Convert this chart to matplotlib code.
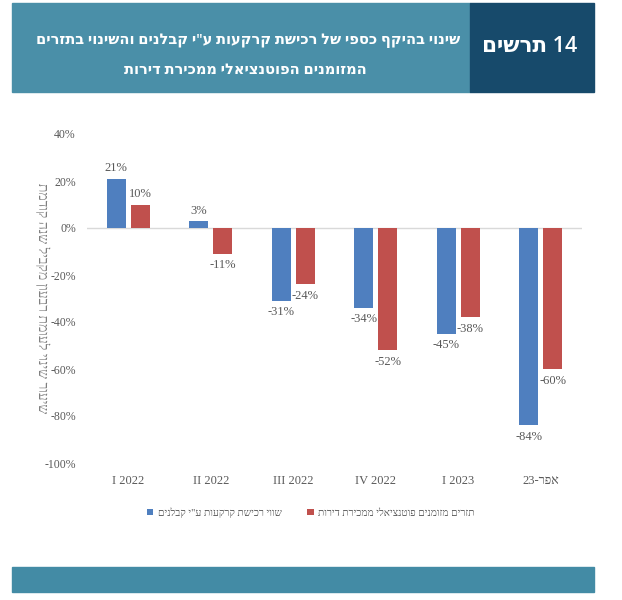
import re
import matplotlib
matplotlib.use("Agg")
import matplotlib.pyplot as plt
from matplotlib.patches import Rectangle

# --- data ---
categories = ["I 2022", "II 2022", "III 2022", "IV 2022", "I 2023", "23-רפא"]
land_purchase = [21, 3, -31, -34, -45, -84]      # שווי רכישת קרקעות ע"י קבלנים
cash_flow = [10, -11, -24, -52, -38, -60]        # תזרים מזומנים פוטנציאלי ממכירת דירות
yticks = [40, 20, 0, -20, -40, -60, -80, -100]

label_land = 'שווי רכישת קרקעות ע"י קבלנים'
label_cash = "תזרים מזומנים פוטנציאלי ממכירת דירות"
title_1 = 'שינוי בהיקף כספי של רכישת קרקעות ע"י קבלנים והשינוי בתזרים'
title_2 = "המזומנים הפוטנציאלי ממכירת דירות"
ylabel = "שיעור שינוי לעומת רבעון מקביל שנה קודמת"


def heb(s):
    # matplotlib has no bidi: flip the string, keep numbers/latin runs in order
    r = s[::-1]
    return re.sub(r"[0-9A-Za-z%.]+", lambda m: m.group(0)[::-1], r)


BLUE = "#4f7fbf"
RED = "#c0504d"
GRAY = "#595959"
SANS = ["Open Sans", "DejaVu Sans"]
SERIF = ["Liberation Serif", "DejaVu Serif", "DejaVu Sans"]

fig = plt.figure(figsize=(6.22, 6.0), dpi=100)
W, H = 622, 600

def px(x0, y0, x1, y1):
    return (x0 / W, 1 - y1 / H, (x1 - x0) / W, (y1 - y0) / H)

# header bands
bg = fig.add_axes([0, 0, 1, 1], zorder=-1)
bg.set_xlim(0, W)
bg.set_ylim(H, 0)
bg.axis("off")
bg.add_patch(Rectangle((12, 3), 458, 89, color="#4a8fa8"))
bg.add_patch(Rectangle((470, 3), 124, 89, color="#174a6b"))
bg.add_patch(Rectangle((12, 567), 582, 25, color="#438ba5"))
bg.text(248, 41, heb(title_1), color="white", fontsize=10.5, fontweight="semibold",
        ha="center", va="center", family=SANS)
bg.text(245, 70, heb(title_2), color="white", fontsize=10.5, fontweight="semibold",
        ha="center", va="center", family=SANS)
bg.text(530, 47, "םישרת 14", color="white", fontsize=15.5, fontweight="semibold",
        ha="center", va="center", family=SANS)

# chart
ax = fig.add_axes(px(87, 134, 582, 463))
x = list(range(len(categories)))
w = 0.23
off = 0.145
b1 = ax.bar([i - off for i in x], land_purchase, w, color=BLUE, label=heb(label_land))
b2 = ax.bar([i + off for i in x], cash_flow, w, color=RED, label=heb(label_cash))

for bars, vals in ((b1, land_purchase), (b2, cash_flow)):
    for b, v in zip(bars, vals):
        cx = b.get_x() + b.get_width() / 2
        if v >= 0:
            ax.annotate(f"{v}%", (cx, v), xytext=(0, 3), textcoords="offset points",
                        ha="center", va="bottom", fontsize=9, color=GRAY, family=SERIF)
        else:
            ax.annotate(f"{v}%", (cx, v), xytext=(0, -4), textcoords="offset points",
                        ha="center", va="top", fontsize=9, color=GRAY, family=SERIF)

ax.set_xlim(-0.5, len(categories) - 0.5)
ax.set_ylim(-100, 40)
ax.set_yticks(yticks)
ax.set_yticklabels([f"{t}%" for t in yticks], family=SERIF, fontsize=8.5, color=GRAY)
ax.set_xticks(x)
ax.set_xticklabels(categories, family=SERIF, fontsize=9, color=GRAY)
ax.tick_params(axis="both", length=0)
ax.tick_params(axis="y", pad=8)
ax.tick_params(axis="x", pad=9)
for s in ax.spines.values():
    s.set_visible(False)
ax.axhline(0, color="#d9d9d9", linewidth=1, zorder=0)

ax.set_ylabel(heb(ylabel), rotation=270, fontsize=10, color="#7f7f7f", family=SERIF,
              va="center", ha="center")
ax.yaxis.set_label_coords(-0.09, 0.5)

leg = ax.legend(loc="center", bbox_to_anchor=(0.452, -0.15), ncol=2, frameon=False,
                handlelength=0.6, handleheight=0.6, handletextpad=0.4,
                columnspacing=2.5, prop={"family": SERIF, "size": 7.5})
for t in leg.get_texts():
    t.set_color(GRAY)

fig.savefig("out.png", dpi=100)
